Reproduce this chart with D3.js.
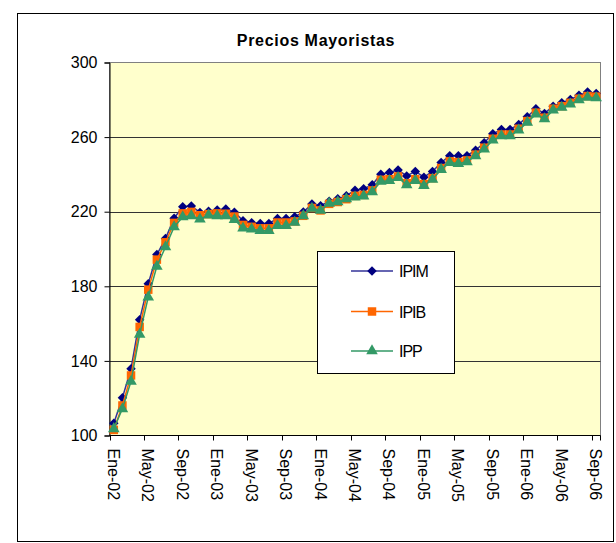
<!DOCTYPE html>
<html lang="es">
  <head>
    <meta charset="UTF-8" />
    <title>Precios Mayoristas</title>
    <style>
      body {
        margin: 0;
        background: #fff;
      }
      svg text {
        font-family: "Liberation Sans", Arial, sans-serif;
        fill: #000;
      }
    </style>
  </head>
  <body>
    <div id="chart"></div>
    <script src="https://cdnjs.cloudflare.com/ajax/libs/d3/7.8.5/d3.min.js"></script>
    <script>
      // meses Ene-02 .. Sep-06
      var monthNames = ["Ene", "Feb", "Mar", "Abr", "May", "Jun", "Jul", "Ago", "Sep", "Oct", "Nov", "Dic"];
      var years = ["02", "03", "04", "05", "06"];
      var tickLabels = ["Ene-02", "May-02", "Sep-02", "Ene-03", "May-03", "Sep-03", "Ene-04", "May-04",
        "Sep-04", "Ene-05", "May-05", "Sep-05", "Ene-06", "May-06", "Sep-06"];
      var yTicks = [100, 140, 180, 220, 260, 300];

      var ipim = [106.6, 120.2, 135.8, 162.1, 181.4, 197, 205.6, 216.5, 222.7, 223.1, 219.6, 220.2,
        220.9, 221.4, 219.7, 215.2, 214.1, 213.7, 213.7, 216.4, 216.4, 217.3, 219.8, 224.1, 223.2,
        225.6, 226.9, 228.6, 231.5, 232.3, 234.4, 240.1, 241, 242.3, 239.2, 241.6, 238.5, 241.6,
        246.4, 250, 250, 250, 253, 257, 261.8, 264.1, 264.1, 266.8, 270.9, 275.2, 272.7, 276.6,
        278.4, 280.2, 282.4, 284.2, 283.4];
      var ipib = [103, 116.1, 132.2, 158.2, 178.2, 194.3, 203.6, 214, 219.1, 219.9, 218.1, 218.7,
        219.1, 218.9, 217.4, 212.9, 211.9, 211.1, 211.1, 214.2, 214.2, 214.8, 217.8, 222, 220.7,
        224.2, 225.2, 226.7, 228.5, 229, 231.4, 237.1, 237.4, 238.9, 235.3, 237.4, 234.8, 238,
        243.4, 247, 246.6, 247.5, 250.6, 254.3, 259.1, 261.4, 261.4, 264.5, 268.6, 273.1, 270.4,
        275.2, 276.6, 278.4, 280.6, 282, 281.7];
      var ipp = [103.6, 114.3, 129, 154.2, 174.2, 190.7, 201.1, 211.8, 217.2, 217.8, 216, 218.1,
        217.8, 217.7, 215.7, 211.2, 210.6, 209.9, 209.8, 212.5, 212.5, 214.3, 217.8, 221.8, 220.7,
        224.5, 225.2, 226.9, 227.8, 228.4, 230.6, 236.2, 236.6, 238.2, 234.4, 236.7, 233.9, 237.3,
        242.6, 246.3, 245.8, 246.7, 249.9, 253.5, 258.3, 260.6, 260.7, 263.7, 267.9, 272.3, 269.7,
        274.4, 275.9, 277.6, 279.9, 281.3, 281];

      var months = [];
      years.forEach(function (y) {
        monthNames.forEach(function (m) {
          if (months.length < ipim.length) months.push(m + "-" + y);
        });
      });

      // rombo = cuadrado girado 45 grados
      var series = [
        { name: "IPIM", values: ipim, line: "#333399", fill: "#000080", shape: d3.symbolSquare, size: 45, rot: 45 },
        { name: "IPIB", values: ipib, line: "#FF6600", fill: "#FF6600", shape: d3.symbolSquare, size: 72, rot: 0 },
        { name: "IPP", values: ipp, line: "#339966", fill: "#339966", shape: d3.symbolTriangle, size: 58, rot: 0 },
      ];

      var W = 616, H = 543;
      var plot = { left: 109.5, right: 600.5, top: 62.5, bottom: 435.5 };

      var svg = d3.select("#chart").append("svg").attr("width", W).attr("height", H);

      // marco exterior
      svg.append("rect")
        .attr("x", 17.5).attr("y", 13.5)
        .attr("width", 596).attr("height", 528)
        .attr("fill", "#fff").attr("stroke", "#000").attr("stroke-width", 1);

      svg.append("text")
        .attr("x", 316).attr("y", 46)
        .attr("text-anchor", "middle")
        .style("font-size", "16px").style("font-weight", "bold")
        .style("letter-spacing", "0.7px")
        .text("Precios Mayoristas");

      var x = d3.scaleBand().domain(months).range([plot.left, plot.right]).padding(0);
      var y = d3.scaleLinear().domain([100, 300]).range([plot.bottom, plot.top]);

      // fondo del area de trazado
      svg.append("rect")
        .attr("x", plot.left).attr("y", plot.top)
        .attr("width", plot.right - plot.left).attr("height", plot.bottom - plot.top)
        .attr("fill", "#FFFFCC").attr("stroke", "#808080").attr("stroke-width", 1);

      // lineas de division
      svg.append("g").selectAll("line")
        .data(yTicks.filter(function (d) { return d > 100 && d < 300; }))
        .enter().append("line")
        .attr("x1", plot.left).attr("x2", plot.right)
        .attr("y1", function (d) { return Math.round(y(d)) + 0.5; })
        .attr("y2", function (d) { return Math.round(y(d)) + 0.5; })
        .attr("stroke", "#333").attr("stroke-width", 1.2);

      // eje Y
      var yAxis = d3.axisLeft(y).tickValues(yTicks).tickSize(5).tickPadding(7);
      var gy = svg.append("g").attr("transform", "translate(" + plot.left + ",0)").call(yAxis);
      gy.select(".domain").attr("stroke", "#000");
      gy.selectAll(".tick line").attr("stroke", "#000");
      gy.selectAll("text").style("font-size", "16px").style("font-family", "Liberation Sans, Arial, sans-serif");

      // eje X: marcas entre categorias, etiquetas en el centro
      var gx = svg.append("g");
      gx.append("line")
        .attr("x1", plot.left).attr("x2", plot.right)
        .attr("y1", plot.bottom).attr("y2", plot.bottom)
        .attr("stroke", "#000");
      gx.selectAll(".tk")
        .data(months.filter(function (d, i) { return i % 4 === 0; }).concat(["end"]))
        .enter().append("line")
        .attr("class", "tk")
        .attr("x1", function (d) { return d === "end" ? plot.right : Math.round(x(d)) + 0.5; })
        .attr("x2", function (d) { return d === "end" ? plot.right : Math.round(x(d)) + 0.5; })
        .attr("y1", plot.bottom).attr("y2", plot.bottom + 5)
        .attr("stroke", "#000");
      gx.selectAll(".lbl")
        .data(tickLabels)
        .enter().append("text")
        .attr("class", "lbl")
        .attr("transform", function (d) {
          return "translate(" + (x(d) + x.bandwidth() / 2 - 6) + "," + (plot.bottom + 13) + ") rotate(90)";
        })
        .style("font-size", "16px")
        .text(function (d) { return d; });

      // series
      var line = d3.line()
        .x(function (d, i) { return x(months[i]) + x.bandwidth() / 2; })
        .y(function (d) { return y(d); });

      series.forEach(function (s) {
        var g = svg.append("g");
        g.append("path")
          .datum(s.values)
          .attr("fill", "none")
          .attr("stroke", s.line)
          .attr("stroke-width", 1.5)
          .attr("d", line);
        g.selectAll("path.mk")
          .data(s.values)
          .enter().append("path")
          .attr("class", "mk")
          .attr("d", d3.symbol().type(s.shape).size(s.size))
          .attr("fill", s.fill)
          .attr("transform", function (d, i) {
            return "translate(" + (x(months[i]) + x.bandwidth() / 2) + "," + y(d) + ") rotate(" + s.rot + ")";
          });
      });

      // leyenda
      var legend = svg.append("g");
      legend.append("rect")
        .attr("x", 317.5).attr("y", 251.5)
        .attr("width", 137).attr("height", 122)
        .attr("fill", "#fff").attr("stroke", "#000");
      var rows = [271, 311.5, 351];
      series.forEach(function (s, i) {
        legend.append("line")
          .attr("x1", 351).attr("x2", 393)
          .attr("y1", rows[i]).attr("y2", rows[i])
          .attr("stroke", s.line).attr("stroke-width", 1.5);
        legend.append("path")
          .attr("d", d3.symbol().type(s.shape).size(s.size))
          .attr("fill", s.fill)
          .attr("transform", "translate(372," + rows[i] + ") rotate(" + s.rot + ")");
        legend.append("text")
          .attr("x", 399).attr("y", rows[i] + 6)
          .style("font-size", "16px")
          .style("letter-spacing", "-1px")
          .text(s.name);
      });
    </script>
  </body>
</html>
